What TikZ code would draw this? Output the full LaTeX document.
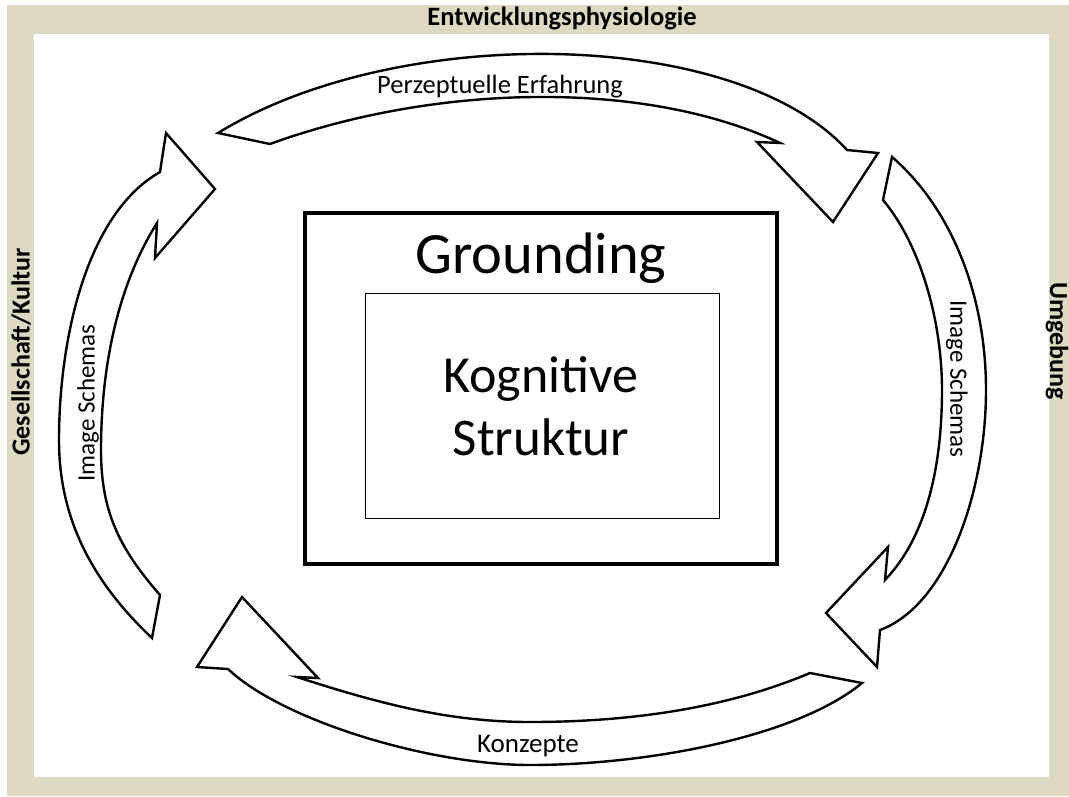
\documentclass[tikz,border=0pt]{standalone}
\usepackage{fontspec}
\setmainfont{Carlito}
\definecolor{tanbg}{RGB}{221,217,195}
\begin{document}
\begin{tikzpicture}[x=1pt, y=-1pt,
  blockarrow/.style={draw=black, line width=2.4pt, fill=white, line join=miter, miter limit=10},
  framelabel/.style={font=\fontsize{26.5}{30}\selectfont\bfseries, inner sep=0pt},
  arrowlabel/.style={font=\fontsize{26.5}{30}\selectfont, inner sep=0pt},
  sidelabel/.style={font=\fontsize{25}{30}\selectfont, inner sep=0pt},
  bigtext/.style={inner sep=0pt}]
\useasboundingbox (0,0) rectangle (1069,796);

% frame and white canvas
\fill[tanbg] (7,5) rectangle (1069,796);
\fill[white] (34,34) rectangle (1049,777);

% frame labels
\node[framelabel] (top) at (562,18) {Entwicklungsphysiologie};
\node[framelabel, font=\fontsize{26}{30}\selectfont\bfseries, rotate=90] (left) at (21,352) {Gesellschaft/Kultur};
\node[framelabel, font=\fontsize{26}{30}\selectfont\bfseries, rotate=-90] (right) at (1057,341) {Umgebung};

% top curved arrow
\draw[blockarrow]
  (218,133) .. controls (399,22) and (736,28) .. (847,150)
  -- (878,153) -- (833,222) -- (757,142) -- (780,143)
  .. controls (642,78) and (432,85) .. (270,144)
  -- cycle;

% right curved arrow
\draw[blockarrow]
  (892,157) .. controls (948,205) and (986,290) .. (986,390)
  .. controls (986,490) and (947.5,605) .. (880,630)
  -- (877,667) -- (826,613) -- (888,547) -- (885,580)
  .. controls (929,534) and (942,460) .. (942,390)
  .. controls (942,320) and (920,244) .. (883,200)
  -- cycle;

% bottom curved arrow
\draw[blockarrow]
  (862,683) .. controls (798,736) and (650,765) .. (530,765)
  .. controls (430,765) and (283,721) .. (228,669)
  -- (197,667) -- (242,597) -- (318,678) -- (297,677)
  .. controls (380,704) and (450,722) .. (530,722)
  .. controls (620,722) and (720,711) .. (810,673)
  -- cycle;

% left curved arrow
\draw[blockarrow]
  (152,638) .. controls (85,575) and (59,510) .. (59,440)
  .. controls (59,340) and (86,214) .. (160,172)
  -- (166,133) -- (215,189) -- (155,258) -- (157,223)
  .. controls (113,293) and (101,380) .. (101,450)
  .. controls (101,510) and (118,547) .. (160,595)
  -- cycle;

% arrow labels
\node[arrowlabel, anchor=base] (perz) at (500,93) {Perzeptuelle Erfahrung};
\node[arrowlabel, anchor=base, font=\fontsize{27}{30}\selectfont] (konz) at (528,752) {Konzepte};
\node[sidelabel, rotate=90] (imgl) at (88,403) {Image Schemas};
\node[sidelabel, rotate=-90] (imgr) at (957,379) {Image Schemas};

% grounding box with cognitive structure inside
\draw[line width=4.5pt] (305,213) rectangle (777,564);
\node[bigtext, anchor=base, font=\fontsize{58.5}{64}\selectfont] (grounding) at (541,273) {Grounding};
\draw[line width=1pt] (365,293) rectangle (719,518);
\node[bigtext, anchor=base, font=\fontsize{52}{60}\selectfont] (kog) at (541,392) {Kognitive};
\node[bigtext, anchor=base, font=\fontsize{53}{60}\selectfont] (struk) at (541,455) {Struktur};
\end{tikzpicture}
\end{document}
